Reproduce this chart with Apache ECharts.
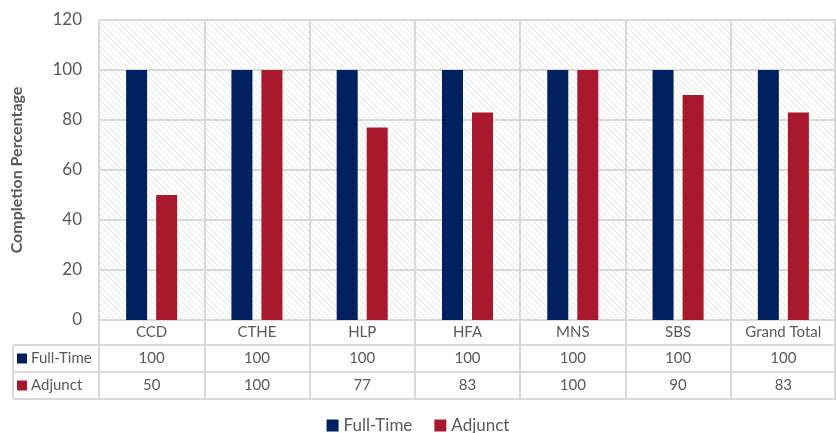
<!DOCTYPE html>
<html><head><meta charset="utf-8">
<script src="https://cdn.jsdelivr.net/npm/echarts@6/dist/echarts.min.js"></script>
<style>html,body{margin:0;padding:0;background:#fff}#c{width:836px;height:433px}</style>
</head><body><div id="c"></div>
<script>
const categories = ['CCD','CTHE','HLP','HFA','MNS','SBS','Grand Total'];
const fullTime = [100,100,100,100,100,100,100];
const adjunct = [50,100,77,83,100,90,83];
const yTicks = [0,20,40,60,80,100,120];
const seriesNames = ['Full-Time','Adjunct'];
const colors = ['#002060','#A8192E'];

const FONT = 'Lato';
const GL = 99, GT = 20, GB = 113, W = 836, H = 433;
const axisY = H - GB;
const rowH = [25, 27, 27];

// hatch pattern
const pc = document.createElement('canvas');
pc.width = 6; pc.height = 6;
const px = pc.getContext('2d');
px.fillStyle = '#fff'; px.fillRect(0,0,6,6);
px.strokeStyle = '#e2e2e2'; px.lineWidth = 1;
px.beginPath();
px.moveTo(-1,-1); px.lineTo(7,7);
px.moveTo(-1,5); px.lineTo(1,7);
px.moveTo(5,-1); px.lineTo(7,1);
px.stroke();

const chart = echarts.init(document.getElementById('c'), null, {renderer:'canvas'});
const gray = '#d9d9d9';
const txt = '#595959';
const r1 = axisY + rowH[0], r2 = r1 + rowH[1], r3 = r2 + rowH[2];
const graphics = [
  {type:'line', shape:{x1:13,y1:r1,x2:W,y2:r1}, style:{stroke:gray,lineWidth:2}, z:10},
  {type:'line', shape:{x1:13,y1:r2,x2:W,y2:r2}, style:{stroke:gray,lineWidth:2}, z:10},
  {type:'line', shape:{x1:13,y1:r3,x2:W,y2:r3}, style:{stroke:gray,lineWidth:2}, z:10},
  {type:'line', shape:{x1:13,y1:r1,x2:13,y2:r3}, style:{stroke:gray,lineWidth:2}, z:10},
  {type:'line', shape:{x1:GL,y1:axisY,x2:GL,y2:r3}, style:{stroke:gray,lineWidth:2}, z:10},
  {type:'line', shape:{x1:W-1,y1:GT,x2:W-1,y2:r3}, style:{stroke:gray,lineWidth:2}, z:10}
];
seriesNames.forEach((n,i)=>{
  const yc = (i===0 ? (r1+r2)/2 : (r2+r3)/2);
  graphics.push({type:'rect', shape:{x:17,y:yc-5,width:10,height:10}, style:{fill:colors[i]}, z:10});
  graphics.push({type:'text', x:31, y:yc, style:{text:n, fill:txt, font:'15px '+FONT, textVerticalAlign:'middle', verticalAlign:'middle'}, z:10});
});

chart.setOption({
  animation:false,
  textStyle:{fontFamily:FONT},
  grid:{left:GL, top:GT, right:0, bottom:GB, show:true, backgroundColor:{image:pc, repeat:'repeat'}, borderWidth:0},
  legend:{bottom:-6, left:'center', itemWidth:12, itemHeight:12, itemGap:22, icon:'rect',
    textStyle:{fontSize:17, color:txt, fontFamily:FONT}, data:seriesNames},
  xAxis:{type:'category', data:categories,
    axisLine:{show:true, lineStyle:{color:gray, width:2}},
    axisTick:{show:true, length:rowH[0]+rowH[1]+rowH[2], lineStyle:{color:gray,width:2}},
    splitLine:{show:true, lineStyle:{color:gray, width:2}},
    axisLabel:{interval:0, margin:0, color:txt, fontSize:15,
      formatter:(v,i)=>'{c|'+v+'}\n{a|'+fullTime[i]+'}\n{b|'+adjunct[i]+'}',
      rich:{c:{height:25,lineHeight:25,fontSize:15,color:txt,fontFamily:FONT},
            a:{height:27,lineHeight:27,fontSize:15,color:txt,fontFamily:FONT},
            b:{height:27,lineHeight:27,fontSize:15,color:txt,fontFamily:FONT}}}},
  yAxis:{type:'value', min:0, max:120, interval:20,
    name:'Completion Percentage', nameLocation:'middle', nameGap:74,
    nameTextStyle:{fontSize:16, fontWeight:'bold', color:txt, fontFamily:FONT},
    axisLine:{show:false}, axisTick:{show:false},
    axisLabel:{fontSize:17, color:txt, margin:17, formatter:v=>yTicks.includes(v)?String(v):''},
    splitLine:{lineStyle:{color:gray, width:2}}},
  series:[
    {name:seriesNames[0], type:'bar', data:fullTime, barWidth:21, barGap:'43%', itemStyle:{color:colors[0]}},
    {name:seriesNames[1], type:'bar', data:adjunct, barWidth:21, itemStyle:{color:colors[1]}}
  ],
  graphic:graphics
});
</script></body></html>
